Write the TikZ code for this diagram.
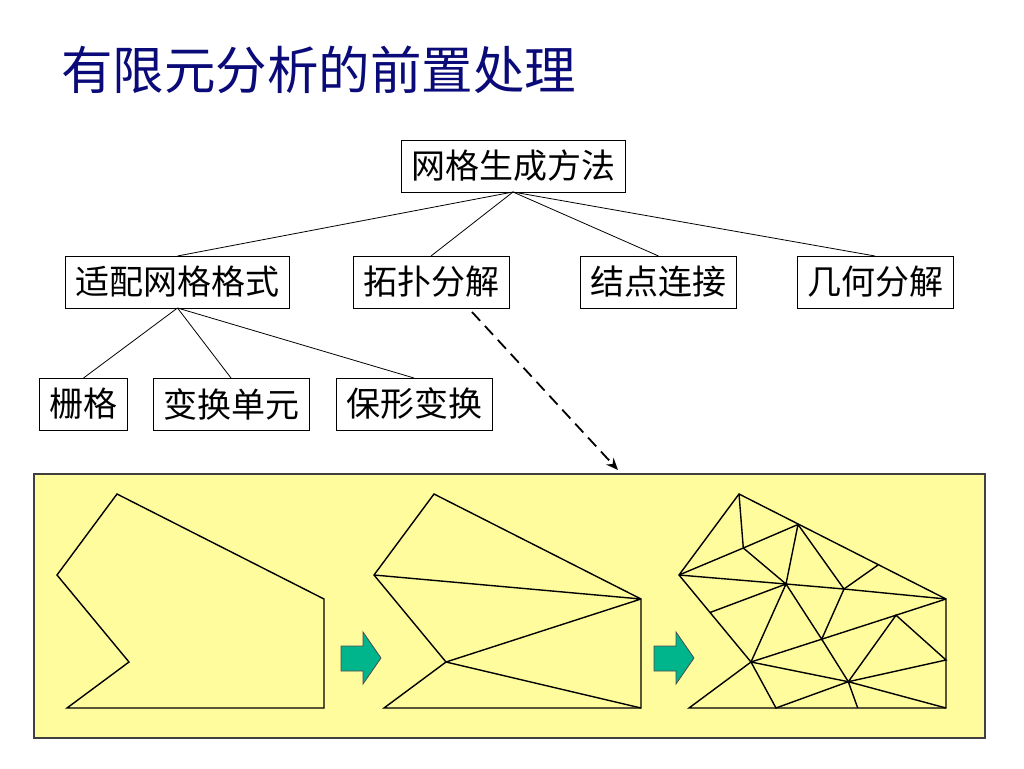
\documentclass[tikz,border=0pt]{standalone}
\usepackage{fontspec}
\newfontfamily\cjk{Noto Sans CJK SC}
\usepackage{tikz}
\usetikzlibrary{calc}
\usetikzlibrary{positioning}
\usetikzlibrary{arrows.meta}

\definecolor{titleblue}{RGB}{10,10,120}
\definecolor{paleyellow}{RGB}{255,252,158}
\definecolor{arrowgreen}{RGB}{0,180,140}

\tikzset{
  box/.style={draw=black, line width=1pt, fill=white, inner xsep=10pt, inner ysep=0pt,
    minimum height=52pt, outer sep=0pt, font=\cjk\fontsize{34}{40}\selectfont},
  branch/.style={line width=0.8pt},
  edge/.style={line width=1.4pt, line join=miter},
  greenarrow/.style={fill=arrowgreen, draw=black!70, line width=0.8pt},
}

\begin{document}
\begin{tikzpicture}[x=1pt,y=-1pt]
    \useasboundingbox[fill=white] (0,0) rectangle (1024,768);

    % title
    \node[anchor=west, inner sep=0pt, text=titleblue, font=\cjk\fontsize{51.5}{60}\selectfont] (title) at (61,70) {有限元分析的前置处理};

    % tree
    \node[box] (root) at (513,166) {网格生成方法};

    \node[box] (adapt) at (177.5,282) {适配网格格式};
    \node[box] (topo) at (431,282) {拓扑分解};
    \node[box] (joint) at (658.5,282) {结点连接};
    \node[box] (geom) at (875,282) {几何分解};

    \node[box] (grid) at (83.5,404) {栅格};
    \node[box] (trans) at (231,404) {变换单元};
    \node[box] (conf) at (414,404) {保形变换};

    \draw[branch] (root.south) -- (adapt.north);
    \draw[branch] (root.south) -- (topo.north);
    \draw[branch] (root.south) -- (joint.north);
    \draw[branch] (root.south) -- (geom.north);

    \draw[branch] (adapt.south) -- (grid.north);
    \draw[branch] (adapt.south) -- (trans.north);
    \draw[branch] (adapt.south) -- (conf.north);

    % panel
    \draw[fill=paleyellow, draw=black!75, line width=1.2pt] (34,474) rectangle (985,738);

    \coordinate (dst) at (618,470);
    \draw[line width=1.8pt, dash pattern=on 12pt off 7pt, -{Stealth[length=12pt,width=10pt]}]
        ([shift={(41,4)}]topo.south) -- (dst);

    % outlines
    \foreach \dx/\s in {0/a,317/b,622/c}{
      \begin{scope}[shift={(\dx,0)}]
        \coordinate (\s A) at (117,494);
        \coordinate (\s B) at (324,599);
        \coordinate (\s C) at (324,708);
        \coordinate (\s D) at (67,708);
        \coordinate (\s E) at (129,662);
        \coordinate (\s F) at (57,575);
        \draw[edge] (\s A) -- (\s B) -- (\s C) -- (\s D) -- (\s E) -- (\s F) -- cycle;
      \end{scope}
    }

    % topological split
    \draw[edge] (bF) -- (bB) (bE) -- (bB) (bE) -- (bC);

    % mesh
    \coordinate (m1) at (743.3,548);
    \coordinate (m2) at (798,524.5);
    \coordinate (m3) at (786,584);
    \coordinate (m4) at (878,565);
    \coordinate (m5) at (844,589);
    \coordinate (m6) at (710,612.5);
    \coordinate (m7) at (821.7,639.2);
    \coordinate (m8) at (896,615.2);
    \coordinate (m9) at (946,660);
    \coordinate (m10) at (848.3,681.7);
    \coordinate (m11) at (776,708);
    \coordinate (m12) at (857.7,708);

    \draw[edge] (cF) -- (m1) -- (m2);
    \draw[edge] (cA) -- (m1) -- (m3) -- (m2) -- (m5) -- (m4);
    \draw[edge] (cF) -- (m3) -- (m5) -- (cB);
    \draw[edge] (m6) -- (m3) -- (cE);
    \draw[edge] (m3) -- (m7) -- (m5);
    \draw[edge] (cE) -- (m7) -- (m8) -- (cB);
    \draw[edge] (m7) -- (m10) -- (cC);
    \draw[edge] (cE) -- (m10) -- (m8) -- (m9) -- (m10);
    \draw[edge] (cE) -- (m11) -- (m10) -- (m12);

    % green arrows
    \foreach \dx in {0,313}
      \draw[greenarrow, shift={(\dx,0)}] (341,646) -- (363,646) -- (363,632) -- (381,658)
        -- (363,684) -- (363,671) -- (341,671) -- cycle;
\end{tikzpicture}
\end{document}
